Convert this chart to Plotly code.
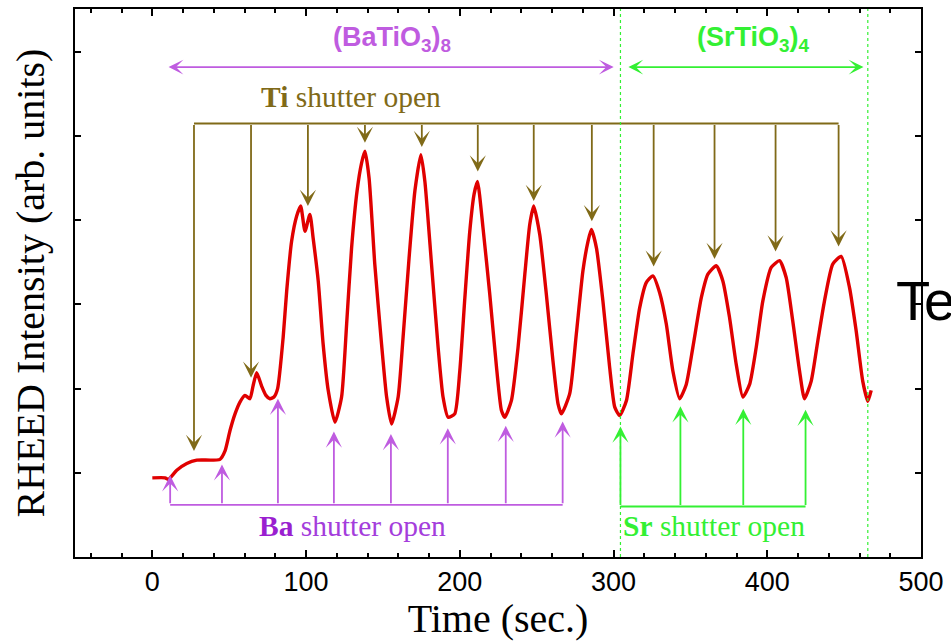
import plotly.graph_objects as go

# RHEED intensity trace during shuttered growth of (BaTiO3)8 / (SrTiO3)4
time_s = [0, 8.3, 10.4, 15.9, 22.4, 28.9, 44.0, 47.3, 50.5, 53.8, 57.0, 60.3, 63.5, 65.5,
          67.9, 71.1, 73.9, 76.5, 79.1, 81.5, 85.1, 87.4, 90.6, 93.9, 96.5, 99.3, 102.5,
          104.6, 107.9, 111.1, 114.4, 118.8, 123.1, 126.4, 129.6, 133.2, 136.1, 138.3,
          141.0, 144.7, 149.1, 152.4, 155.6, 159.9, 163.1, 167.0, 170.8, 174.7, 177.3,
          181.6, 185.9, 189.1, 192.4, 196.7, 200.0, 203.3, 206.5, 209.3, 211.5, 215.1,
          219.5, 223.9, 227.1, 229.3, 233.6, 237.9, 242.3, 245.5, 248.1, 252.0, 256.3,
          260.6, 263.9, 266.1, 271.5, 275.8, 280.1, 283.4, 285.6, 288.9, 293.1, 297.5,
          300.8, 304.0, 308.4, 312.6, 317.0, 321.3, 325.6, 330.0, 334.3, 338.6, 343.0,
          347.3, 351.6, 357.1, 361.4, 366.8, 371.1, 375.5, 379.8, 384.1, 388.5, 392.8,
          397.1, 402.6, 408.0, 412.3, 416.6, 421.0, 424.2, 428.6, 432.9, 437.2, 442.6,
          448.1, 453.5, 457.8, 462.1, 465.4, 467.6]
intensity = [0.94, 0.94, 0.92, 1.03, 1.11, 1.15, 1.16, 1.26, 1.50, 1.70, 1.84, 1.92, 1.88, 2.03,
             2.19, 2.03, 1.92, 1.88, 1.90, 2.00, 2.61, 3.16, 3.75, 4.05, 4.17, 3.87, 4.07,
             3.79, 3.28, 2.53, 1.98, 1.60, 1.90, 2.77, 3.67, 4.35, 4.68, 4.82,
             4.50, 3.48, 2.53, 1.90, 1.58, 1.90, 2.61, 3.55, 4.35, 4.78, 4.46,
             3.48, 2.49, 1.90, 1.66, 1.70, 2.21, 3.08, 3.87, 4.31, 4.46, 3.91,
             3.12, 2.25, 1.74, 1.66, 1.86, 2.49, 3.36, 3.95, 4.17, 3.83, 3.12,
             2.33, 1.82, 1.70, 1.94, 2.65, 3.40, 3.75, 3.89, 3.67, 3.04, 2.25,
             1.78, 1.68, 1.86, 2.41, 2.96, 3.26, 3.34, 3.14, 2.77, 2.21, 1.88,
             2.05, 2.49, 3.08, 3.36, 3.46, 3.28, 2.84, 2.29, 1.90, 2.05, 2.49,
             3.04, 3.44, 3.52, 3.32, 2.80, 2.21, 1.88, 2.09, 2.57, 3.04, 3.48,
             3.57, 3.20, 2.69, 2.09, 1.85, 1.98]

# Shutter events (time, intensity at arrow tip)
ti_open_t = [27.1, 64.2, 101.2, 138.3, 175.3, 211.7, 248.1, 285.9, 326.1, 365.7, 405.4, 446.4]
ti_tip_y = [1.26, 2.13, 4.17, 4.92, 4.87, 4.58, 4.23, 3.99, 3.45, 3.54, 3.63, 3.69]
ti_bar_y = 5.15

ba_open_t = [11.6, 45.3, 81.7, 118.1, 155.2, 192.2, 229.9, 266.9]
ba_tip_y = [0.97, 1.10, 1.88, 1.49, 1.46, 1.53, 1.56, 1.61]
ba_bar_y = 0.62

sr_open_t = [304.5, 343.5, 384.4, 424.9]
sr_tip_y = [1.55, 1.79, 1.76, 1.75]
sr_bar_y = 0.60

# Layer boundaries and superlattice spans
boundary_t = [304.5, 465.4]
bto_span = [9.6, 300.1]
sto_span = [308.7, 462.6]
span_y = 5.82

x_range = [-50.3, 500]
y_range = [0, 6.51]
x_ticks = [0, 100, 200, 300, 400, 500]

RED = "#e00000"
OLIVE = "#806a18"
PURPLE = "#bf5ce0"
PURPLE_TXT = "#a43ddc"
PURPLE_BOLD = "#9a1fd0"
GREEN = "#33f033"

SERIF = "Liberation Serif, Times New Roman, serif"
SANS = "Liberation Sans, Arial, sans-serif"

fig = go.Figure()
fig.add_trace(go.Scatter(
    x=time_s, y=intensity, mode="lines",
    line=dict(color=RED, width=3.4, shape="spline", smoothing=0.55),
    hoverinfo="skip", showlegend=False,
))

shapes = []
annotations = []

def add_arrow(x, y, ax, ay, color, both=False, width=1.8, size=1.5):
    annotations.append(dict(
        x=x, y=y, ax=ax, ay=ay, xref="x", yref="y", axref="x", ayref="y",
        text="", showarrow=True, arrowhead=3, arrowsize=size, arrowwidth=width,
        arrowcolor=color, arrowside="end+start" if both else "end",
        startarrowhead=3, startarrowsize=size, standoff=0, startstandoff=0,
    ))

# Ti shutter comb (from the top)
shapes.append(dict(type="line", xref="x", yref="y", x0=ti_open_t[0], x1=ti_open_t[-1],
                   y0=ti_bar_y, y1=ti_bar_y, line=dict(color=OLIVE, width=1.8)))
for t, tip in zip(ti_open_t, ti_tip_y):
    add_arrow(t, tip, t, ti_bar_y, OLIVE)

# Ba shutter comb (from below)
shapes.append(dict(type="line", xref="x", yref="y", x0=ba_open_t[0], x1=ba_open_t[-1],
                   y0=ba_bar_y, y1=ba_bar_y, line=dict(color=PURPLE, width=1.8)))
for t, tip in zip(ba_open_t, ba_tip_y):
    add_arrow(t, tip, t, ba_bar_y, PURPLE)

# Sr shutter comb (from below)
shapes.append(dict(type="line", xref="x", yref="y", x0=sr_open_t[0], x1=sr_open_t[-1],
                   y0=sr_bar_y, y1=sr_bar_y, line=dict(color=GREEN, width=1.8)))
for t, tip in zip(sr_open_t, sr_tip_y):
    add_arrow(t, tip, t, sr_bar_y, GREEN)

# Dotted boundaries of the SrTiO3 block
for t in boundary_t:
    shapes.append(dict(type="line", xref="x", yref="paper", x0=t, x1=t, y0=0, y1=1,
                       line=dict(color=GREEN, width=1.2, dash="dot")))

# Superlattice period spans
add_arrow(bto_span[1], span_y, bto_span[0], span_y, PURPLE, both=True, width=1.7, size=1.45)
add_arrow(sto_span[1], span_y, sto_span[0], span_y, GREEN, both=True, width=1.7, size=1.45)

annotations += [
    dict(x=155.6, y=6.15, xref="x", yref="y", showarrow=False,
         text="<b>(BaTiO<sub>3</sub>)<sub>8</sub></b>",
         font=dict(family=SANS, size=27, color=PURPLE), xanchor="center", yanchor="middle"),
    dict(x=391.1, y=6.15, xref="x", yref="y", showarrow=False,
         text="<b>(SrTiO<sub>3</sub>)<sub>4</sub></b>",
         font=dict(family=SANS, size=27, color=GREEN), xanchor="center", yanchor="middle"),
    dict(x=129.2, y=5.46, xref="x", yref="y", showarrow=False,
         text="<b>Ti</b> shutter open",
         font=dict(family=SERIF, size=29.5, color=OLIVE), xanchor="center", yanchor="middle"),
    dict(x=130.1, y=0.37, xref="x", yref="y", showarrow=False,
         text="<b><span style='color:%s'>Ba</span></b> shutter open" % PURPLE_BOLD,
         font=dict(family=SERIF, size=29.5, color=PURPLE_TXT), xanchor="center", yanchor="middle"),
    dict(x=365.4, y=0.37, xref="x", yref="y", showarrow=False,
         text="<b>Sr</b> shutter open",
         font=dict(family=SERIF, size=29.5, color=GREEN), xanchor="center", yanchor="middle"),
    dict(x=0.9685, y=0.468, xref="paper", yref="paper", showarrow=False,
         text="Te", font=dict(family=SANS, size=56, color="black"),
         xanchor="left", yanchor="middle"),
]

fig.update_layout(
    width=951, height=641,
    margin=dict(l=75, r=29, t=7, b=84, pad=0),
    paper_bgcolor="white", plot_bgcolor="white",
    shapes=shapes, annotations=annotations,
    showlegend=False,
    xaxis=dict(
        range=x_range, tickvals=x_ticks, ticktext=[str(v) for v in x_ticks],
        ticks="inside", ticklen=7, tickwidth=1.8, tickcolor="black",
        minor=dict(dtick=20, tick0=0, ticks="inside", ticklen=4, tickwidth=1.5, tickcolor="black"),
        showline=True, linecolor="black", linewidth=2, mirror="allticks",
        showgrid=False, zeroline=False,
        tickfont=dict(family=SANS, size=27, color="black"),
        title=dict(text="Time (sec.)", font=dict(family=SERIF, size=40, color="black"), standoff=4),
    ),
    yaxis=dict(
        range=y_range, dtick=1, tick0=0, showticklabels=False,
        ticks="inside", ticklen=6, tickwidth=1.8, tickcolor="black",
        showline=True, linecolor="black", linewidth=2, mirror="allticks",
        showgrid=False, zeroline=False,
        title=dict(text="RHEED Intensity (arb. units)",
                   font=dict(family=SERIF, size=40, color="black"), standoff=16),
    ),
)

fig.write_html("out.html")
